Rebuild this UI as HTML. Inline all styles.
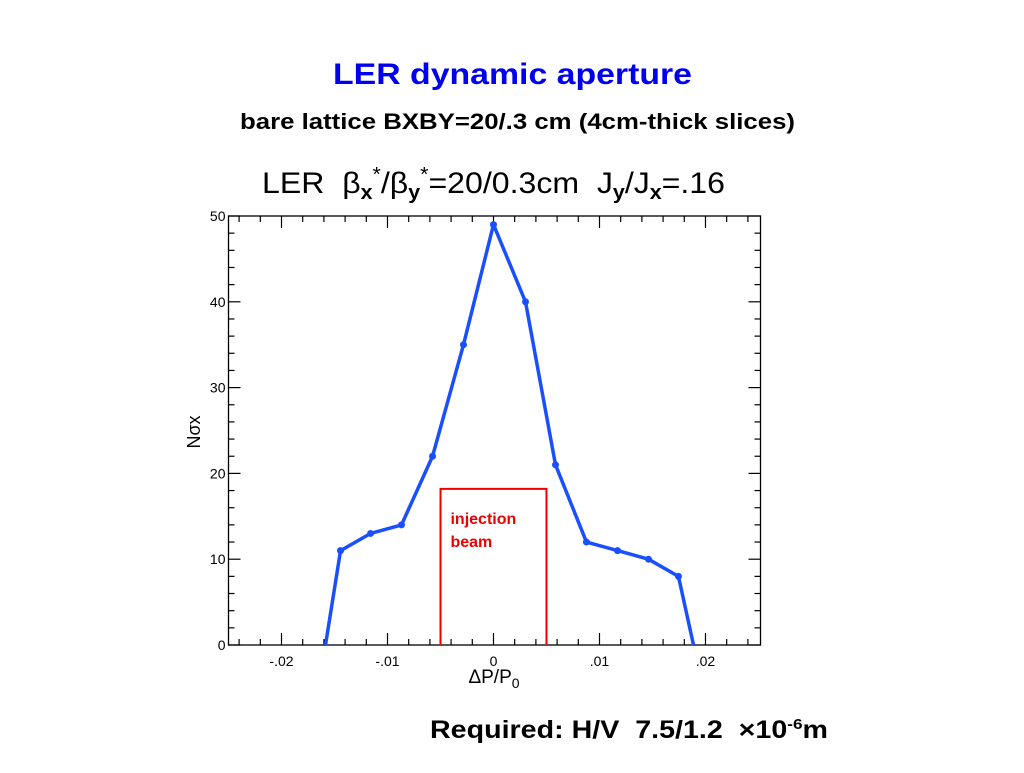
<!DOCTYPE html>
<html><head><meta charset="utf-8"><style>
body{margin:0;background:#fff;width:1024px;height:768px;overflow:hidden;font-family:"Liberation Sans",sans-serif}
</style></head><body>
<svg width="1024" height="768" viewBox="0 0 1024 768">
<text x="333" y="84" textLength="359" lengthAdjust="spacingAndGlyphs" font-size="30" font-weight="bold" fill="#0000ee">LER dynamic aperture</text>
<text x="240" y="129" textLength="555" lengthAdjust="spacingAndGlyphs" font-size="22" font-weight="bold" fill="#000">bare lattice  BXBY=20/.3 cm (4cm-thick slices)</text>
<text x="262" y="193" textLength="463" lengthAdjust="spacingAndGlyphs" font-size="30" fill="#000">LER  &#160;β<tspan font-size="20" font-weight="bold" dy="6">x</tspan><tspan font-size="20" dy="-18">*</tspan><tspan dy="12">/β</tspan><tspan font-size="20" font-weight="bold" dy="6">y</tspan><tspan font-size="20" dy="-18">*</tspan><tspan dy="12">=20/0.3cm &#160;J</tspan><tspan font-size="20" font-weight="bold" dy="6">y</tspan><tspan dy="-6">/J</tspan><tspan font-size="20" font-weight="bold" dy="6">x</tspan><tspan dy="-6">=.16</tspan></text>
<g id="axes"></g>
<g id="marks"></g>
<text x="494" y="683" text-anchor="middle" font-size="19" fill="#000">ΔP/P<tspan font-size="14" dy="5">0</tspan></text>
<text transform="translate(200,432) rotate(-90)" text-anchor="middle" font-size="18" fill="#000">Nσx</text>
<text x="430" y="738" textLength="398" lengthAdjust="spacingAndGlyphs" font-size="25" font-weight="bold" fill="#000">Required: H/V &#160;7.5/1.2 &#160;×10<tspan font-size="15" dy="-9">-6</tspan><tspan dy="9">m</tspan></text>
</svg>
<script>
const xValues=[-0.01585,-0.01443,-0.0116,-0.00868,-0.00575,-0.00283,0,0.00302,0.00585,0.00877,0.0117,0.01462,0.01745,0.01887];
const yValues=[0,11,13,14,22,35,49,40,21,12,11,10,8,0];
const xTicks=[-0.02,-0.01,0,0.01,0.02];
const xTickLabels=["-.02","-.01","0",".01",".02"];
const yTicks=[0,10,20,30,40,50];
const injectionBox=[-0.005,0.005,18.2];
const X0=228.5,X1=760.5,Y0=645,Y1=216,xmin=-0.025,xmax=0.02519,ymin=0,ymax=50;
const sx=v=>X0+(v-xmin)/(xmax-xmin)*(X1-X0);
const sy=v=>Y0-(v-ymin)/(ymax-ymin)*(Y0-Y1);
const NS="http://www.w3.org/2000/svg";
function mk(t,a,p){const e=document.createElementNS(NS,t);for(const k in a)e.setAttribute(k,a[k]);p.appendChild(e);return e;}
const ax=document.getElementById('axes'),mg=document.getElementById('marks');
const frame=mk('rect',{x:X0,y:Y1,width:X1-X0,height:Y0-Y1,fill:'none',stroke:'#000','stroke-width':1.3},ax);


for(let k=-12;k<=12;k++){const v=k*0.002;if(v<xmin-1e-9||v>xmax)continue;const X=sx(v);const maj=(k%5===0);const L=maj?12:6;
 mk('line',{x1:X,y1:Y0,x2:X,y2:Y0-L,stroke:'#000','stroke-width':1.2},ax);
 mk('line',{x1:X,y1:Y1,x2:X,y2:Y1+L,stroke:'#000','stroke-width':1.2},ax);}
for(let v=0;v<=50;v+=2){const Y=sy(v);const L=(v%10===0)?12:6;
 mk('line',{x1:X0,y1:Y,x2:X0+L,y2:Y,stroke:'#000','stroke-width':1.2},ax);
 mk('line',{x1:X1,y1:Y,x2:X1-L,y2:Y,stroke:'#000','stroke-width':1.2},ax);}
xTicks.forEach((v,i)=>{const t=mk('text',{x:sx(v),y:Y0+21,'text-anchor':'middle','font-size':14,fill:'#000'},ax);t.textContent=xTickLabels[i];
 
 });
yTicks.forEach(v=>{const t=mk('text',{x:X0-3,y:sy(v)+5,'text-anchor':'end','font-size':14,fill:'#000'},ax);t.textContent=String(v);
 
 });
const box=mk('polyline',{points:`${sx(injectionBox[0])},${sy(0)} ${sx(injectionBox[0])},${sy(injectionBox[2])} ${sx(injectionBox[1])},${sy(injectionBox[2])} ${sx(injectionBox[1])},${sy(0)}`,fill:'none',stroke:'#ee0000','stroke-width':2},mg);


const t1=mk('text',{x:sx(injectionBox[0])+10,y:sy(injectionBox[2])+35,'font-size':16,'font-weight':'bold',fill:'#ee0000'},mg);t1.textContent='injection';


const t2=mk('text',{x:sx(injectionBox[0])+10,y:sy(injectionBox[2])+58,'font-size':16,'font-weight':'bold',fill:'#ee0000'},mg);t2.textContent='beam';


const line=mk('polyline',{points:xValues.map((v,i)=>sx(v)+','+sy(yValues[i])).join(' '),fill:'none',stroke:'#1a4fff','stroke-width':3.5,'stroke-linejoin':'round'},mg);


xValues.forEach((v,i)=>{if(yValues[i]===0)return;const c=mk('circle',{cx:sx(v),cy:sy(yValues[i]),r:3.5,fill:'#1a4fff'},mg);
 
 });
</script>
</body></html>
